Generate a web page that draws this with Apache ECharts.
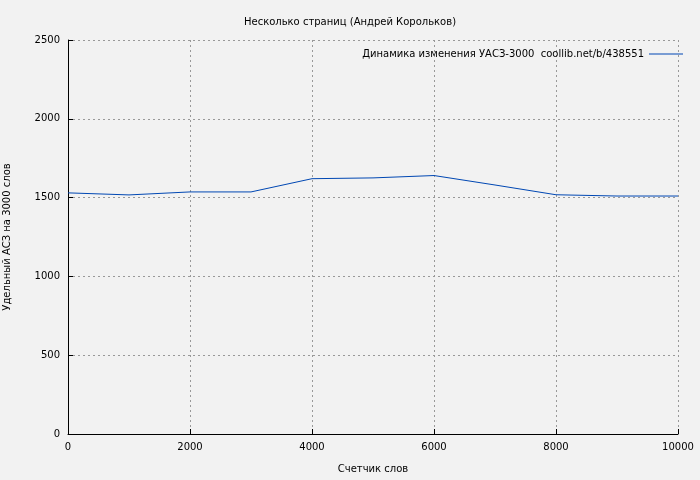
<html>
<head>
<script src="https://cdn.jsdelivr.net/npm/echarts@6/dist/echarts.min.js"></script>
</head>
<body style="margin:0;background:#f2f2f2">
<div id="main" style="width:700px;height:480px"></div>
<script>
var wordCounts = [0, 1000, 2000, 3000, 4000, 5000, 6000, 7000, 8000, 9000, 10000];
var asValues = [1530, 1517, 1536, 1536, 1620, 1625, 1640, 1580, 1518, 1510, 1510];
var seriesName = 'Динамика изменения УАСЗ-3000  coollib.net/b/438551';

var font = 'DejaVu Sans';
var chart = echarts.init(document.getElementById('main'));
chart.setOption({
    backgroundColor: '#f2f2f2',
    animation: false,
    textStyle: { fontFamily: font },
    title: {
        text: 'Несколько страниц (Андрей Корольков)',
        left: 'center', top: 12,
        textStyle: { fontFamily: font, fontSize: 10, fontWeight: 'normal', color: '#000' }
    },
    legend: {
        right: 12, top: 44, itemWidth: 34, itemHeight: 1, icon: 'rect', itemGap: 5,
        align: 'right',
        textStyle: { fontFamily: font, fontSize: 10, color: '#000' }
    },
    grid: { left: 68, right: 22, top: 40, bottom: 46, containLabel: false, outerBoundsMode: 'none' },
    xAxis: {
        type: 'value', min: 0, max: 10000, interval: 2000,
        name: 'Счетчик слов', nameLocation: 'middle', nameGap: 30,
        nameTextStyle: { fontFamily: font, fontSize: 10, color: '#000' },
        axisLine: { lineStyle: { color: '#000' } },
        axisTick: { inside: true, lineStyle: { color: '#000' } },
        axisLabel: { color: '#000', fontFamily: font, fontSize: 10, formatter: function (v) { return String(v); } },
        splitLine: { lineStyle: { color: '#999', type: [2, 3] } }
    },
    yAxis: {
        type: 'value', min: 0, max: 2500, interval: 500,
        name: 'Удельный АСЗ на 3000 слов', nameLocation: 'middle', nameGap: 56,
        nameTextStyle: { fontFamily: font, fontSize: 10, color: '#000' },
        axisLine: { show: true, lineStyle: { color: '#000' } },
        axisTick: { show: true, inside: true, lineStyle: { color: '#000' } },
        axisLabel: { color: '#000', fontFamily: font, fontSize: 10, formatter: function (v) { return String(v); } },
        splitLine: { lineStyle: { color: '#999', type: [2, 3] } }
    },
    series: [{
        name: seriesName,
        type: 'line',
        showSymbol: false,
        data: wordCounts.map(function (x, i) { return [x, asValues[i]]; }),
        lineStyle: { color: '#0047b3', width: 1 },
        itemStyle: { color: '#0047b3' }
    }]
});
</script>
</body>
</html>
